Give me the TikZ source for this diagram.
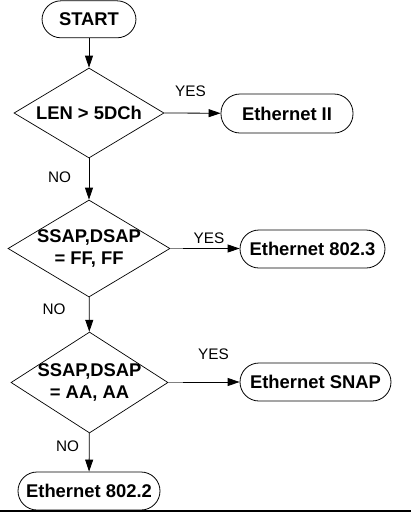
\documentclass[tikz,border=0pt]{standalone}
\usepackage{fontspec}
\setmainfont{Liberation Sans}
\usetikzlibrary{shapes.geometric,arrows.meta}
\tikzset{
  term/.style={draw, line width=0.8pt, rounded corners=19pt, inner sep=0pt,
    minimum height=38pt, font=\bfseries\fontsize{18.4}{22}\selectfont,
    text height=13.2pt, text depth=0pt},
  dia/.style={draw, line width=0.7pt, diamond, inner sep=0pt},
  diatext/.style={font=\bfseries\fontsize{18.4}{22.5}\selectfont, align=center, inner sep=0pt},
  lab/.style={font=\fontsize{15.3}{18}\selectfont, inner sep=0pt, text height=11pt, text depth=0pt},
  arr/.style={-{Triangle[length=12pt,width=8pt]}, line width=0.8pt},
  stub/.style={line width=0.9pt, draw=gray}
}
\begin{document}
\begin{tikzpicture}[x=1pt,y=-1pt]
\useasboundingbox (0,0) rectangle (411,515);
% nodes
\node[term, minimum width=94pt, minimum height=37pt] (start) at (89,19.3) {START};
\node[dia, minimum width=150pt, minimum height=90pt] (d1) at (89,113) {};
\node[diatext] (t1) at (89,113) {LEN > 5DCh};
\node[term, minimum width=132pt, minimum height=39pt] (eth2) at (287,113.5) {Ethernet II};
\node[dia, minimum width=162pt, minimum height=97pt] (d2) at (89,248.5) {};
\node[diatext] (t2) at (89,248.5) {SSAP,DSAP\\= FF, FF};
\node[term, minimum width=145pt] (e8023) at (312.5,249) {Ethernet 802.3};
\node[dia, minimum width=157pt, minimum height=101pt] (d3) at (89.5,382.5) {};
\node[diatext] (t3) at (89.5,382.5) {SSAP,DSAP\\= AA, AA};
\node[term, minimum width=151pt] (snap) at (315.5,382) {Ethernet SNAP};
\node[term, minimum width=142pt] (e8022) at (89,491) {Ethernet 802.2};
% labels
\node[lab] (y1) at (190.5,90.5) {YES};
\node[lab] (n1) at (59.5,177) {NO};
\node[lab] (y2) at (209,237.5) {YES};
\node[lab] (n2) at (54,308.5) {NO};
\node[lab] (y3) at (213.5,353.5) {YES};
\node[lab] (n3) at (67.5,445.5) {NO};
% connectors
\coordinate (s2) at (183,248.5);
\coordinate (s3) at (183,382);
\draw[arr] (start) -- (d1);
\draw[arr] (d1.east) -- (eth2);
\draw[arr] (d1) -- (d2);
\draw[stub] (d2.east) -- (s2);
\draw[arr] (s2) -- (s2 -| e8023.west);
\draw[arr] (d2) -- (d3);
\draw[stub] (d3.east) -- (d3.east -| s3);
\draw[arr] (s3) -- (snap.west);
\draw[arr] (d3) -- (e8022);
% bottom rule
\coordinate (bl) at (0,511);
\coordinate (br) at (411,511);
\draw[line width=1.8pt] (bl) -- (br);
\end{tikzpicture}
\end{document}
